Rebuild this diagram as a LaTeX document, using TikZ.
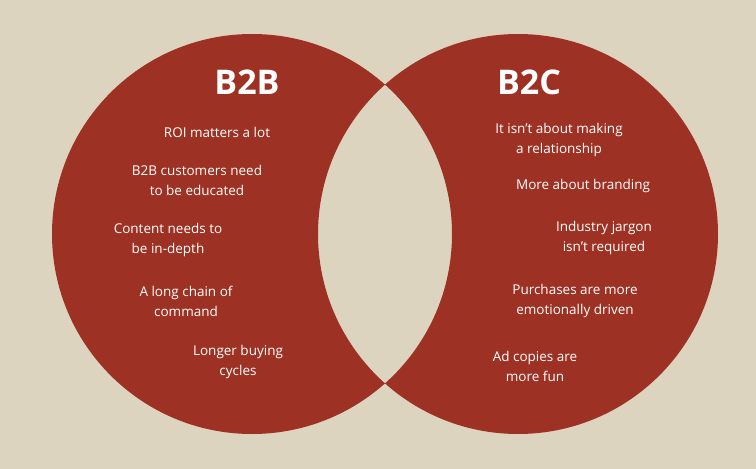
\documentclass[tikz,border=0pt]{standalone}
\usepackage{fontspec}
\setmainfont{Open Sans}
\usetikzlibrary{positioning}
\definecolor{brick}{HTML}{9D3224}
\definecolor{sand}{HTML}{DCD4BF}

\begin{document}
\begin{tikzpicture}[
            x = 1pt, y = -1pt, % pixel grid of the reference
            item/.style = {text = white, align = center, font = \fontsize{13.5}{20}\selectfont},
            title/.style = {text = white, font = \fontsize{34}{40}\selectfont\bfseries}
        ]

        \fill[sand] (0,0) rectangle (756,469);
        \useasboundingbox (0,0) rectangle (756,469);

        % two circles, overlap left empty
        \fill[brick, even odd rule] (252,234) circle[radius=200] (518,234) circle[radius=200];

        \node[title] (b2b) at (247,82) {B2B};
        \node[title] (b2c) at (529,82) {B2C};

        \node[item] (roi) at (217,132) {ROI matters a lot};
        \node[item] (edu) at (197,180) {B2B customers need\\to be educated};
        \node[item] (depth) at (168,240) {Content needs to\\be in-depth};
        \node[item] (chain) at (186,301) {A long chain of\\command};
        \node[item] (cycle) at (238,362) {Longer buying\\cycles};

        \node[item] (rel) at (559,140) {It isn’t about making\\a relationship};
        \node[item] (brand) at (583,186) {More about branding};
        \node[item] (jargon) at (604,238) {Industry jargon\\isn’t required};
        \node[item] (emo) at (575,301) {Purchases are more\\emotionally driven};
        \node[item] (fun) at (535,366) {Ad copies are\\more fun};

\end{tikzpicture}
\end{document}
